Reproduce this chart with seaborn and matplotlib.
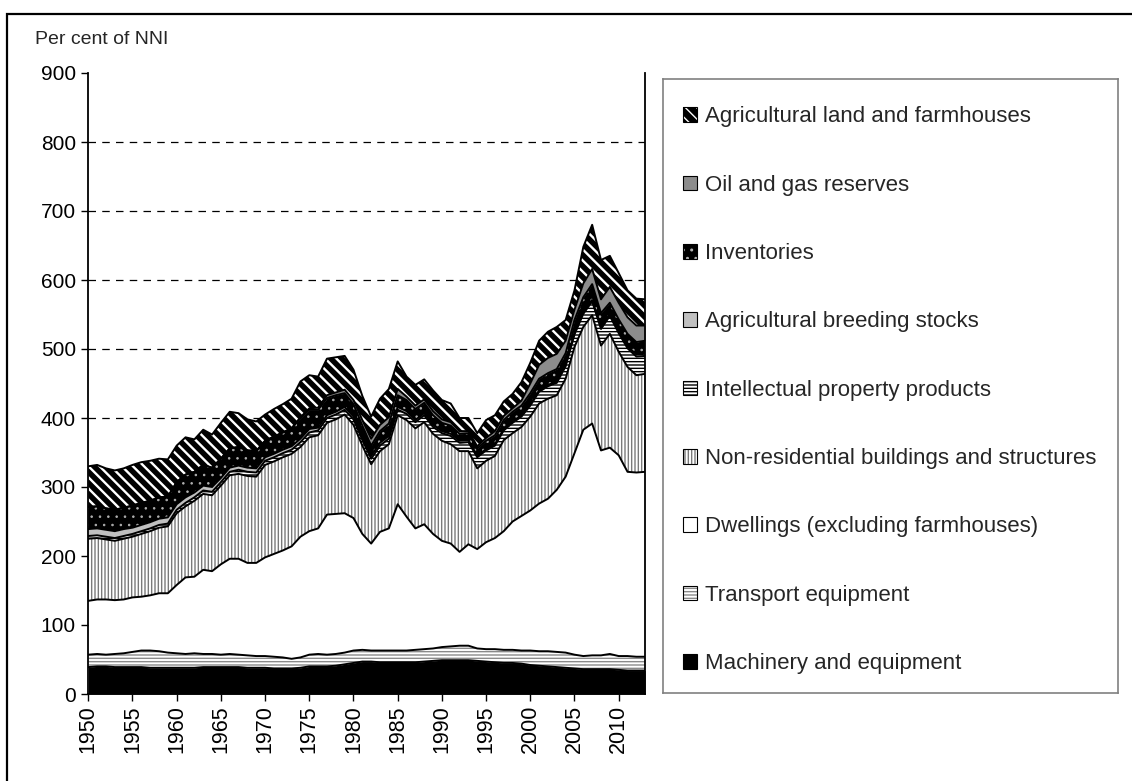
import matplotlib
matplotlib.use("Agg")
import matplotlib.pyplot as plt
from matplotlib.patches import Patch, Rectangle
import numpy as np
import pandas as pd
import seaborn as sns

# ── Data (per cent of NNI), 1950-2013 ─────────────────────────
years = list(range(1950, 2014))

machinery = [39, 40, 40, 39, 39, 39, 39, 38, 38, 38,
             38, 38, 38, 39, 39, 39, 39, 39, 38, 38,
             38, 37, 37, 37, 38, 40, 40, 40, 41, 43,
             45, 47, 47, 46, 46, 46, 46, 46, 47, 48,
             49, 49, 49, 49, 48, 47, 46, 45, 45, 44,
             42, 41, 40, 39, 38, 37, 36, 36, 36, 36,
             35, 34, 34, 34]
transport = [18, 18, 17, 19, 20, 22, 24, 25, 24, 22,
             21, 20, 21, 19, 19, 18, 19, 18, 18, 17,
             17, 17, 16, 14, 15, 17, 18, 17, 17, 17,
             18, 17, 16, 17, 17, 17, 17, 18, 18, 18,
             19, 20, 21, 21, 18, 18, 19, 19, 19, 19,
             21, 21, 22, 22, 22, 20, 19, 20, 20, 22,
             20, 21, 20, 20]
dwellings = [78, 79, 80, 78, 78, 79, 78, 80, 84, 86,
             99, 111, 111, 122, 120, 131, 138, 139, 134, 135,
             143, 149, 155, 163, 175, 179, 182, 203, 203, 202,
             192, 168, 155, 172, 177, 212, 194, 176, 181, 166,
             154, 149, 136, 147, 144, 155, 161, 172, 186, 195,
             203, 214, 221, 235, 255, 292, 328, 336, 297, 299,
             291, 267, 267, 268]
nonres = [90, 89, 87, 86, 88, 88, 91, 93, 95, 97,
          104, 103, 110, 110, 110, 114, 121, 123, 126, 125,
          134, 134, 135, 134, 130, 136, 135, 133, 137, 143,
          135, 128, 115, 117, 122, 129, 140, 145, 148, 145,
          145, 144, 146, 135, 117, 118, 119, 132, 128, 129,
          136, 145, 145, 137, 142, 154, 149, 157, 152, 165,
          150, 152, 141, 142]
intellectual = [4, 4, 4, 4, 4, 4, 4, 4, 4, 4,
                5, 5, 5, 5, 5, 5, 5, 6, 6, 6,
                6, 6, 6, 6, 7, 7, 7, 7, 7, 7,
                8, 8, 8, 8, 8, 8, 9, 9, 10, 10,
                11, 12, 12, 13, 16, 15, 15, 14, 15, 15,
                16, 17, 18, 18, 18, 18, 19, 20, 24, 26,
                27, 27, 27, 26]
breeding = [10, 10, 10, 10, 10, 9, 9, 9, 9, 9,
            8, 8, 7, 7, 7, 6, 6, 6, 6, 6,
            5, 5, 5, 5, 5, 5, 4, 4, 4, 4,
            4, 4, 4, 4, 4, 4, 4, 3, 3, 3,
            3, 3, 3, 3, 2, 2, 2, 2, 2, 2,
            2, 2, 2, 2, 2, 2, 2, 2, 3, 3,
            3, 3, 3, 3]
inventories = [32, 32, 31, 31, 31, 32, 32, 31, 31, 30,
               32, 33, 30, 30, 28, 28, 28, 27, 25, 25,
               24, 25, 25, 26, 30, 28, 26, 25, 24, 20,
               18, 17, 15, 17, 18, 17, 16, 16, 15, 14,
               12, 12, 10, 10, 11, 12, 13, 13, 14, 14,
               16, 17, 17, 18, 17, 19, 22, 23, 20, 16,
               17, 18, 18, 19]
oil_gas = [0, 0, 0, 0, 0, 0, 0, 0, 0, 0,
           0, 0, 0, 0, 0, 0, 0, 0, 0, 0,
           0, 0, 0, 0, 1, 2, 3, 4, 4, 5,
           6, 8, 10, 9, 9, 9, 5, 5, 5, 6,
           5, 5, 4, 3, 3, 4, 6, 6, 5, 7,
           14, 20, 22, 22, 18, 15, 20, 22, 20, 23,
           24, 24, 24, 22]
agri_land = [59, 60, 58, 57, 57, 59, 59, 58, 56, 54,
             53, 54, 47, 51, 48, 52, 53, 49, 45, 43,
             38, 40, 41, 43, 52, 48, 45, 53, 51, 49,
             44, 35, 32, 38, 41, 40, 29, 30, 29, 30,
             28, 27, 19, 19, 19, 26, 23, 21, 21, 27,
             30, 35, 38, 39, 30, 28, 53, 64, 57, 45,
             43, 39, 39, 38]

labels = ["Machinery and equipment", "Transport equipment",
          "Dwellings (excluding farmhouses)",
          "Non-residential buildings and structures",
          "Intellectual property products", "Agricultural breeding stocks",
          "Inventories", "Oil and gas reserves",
          "Agricultural land and farmhouses"]

df = pd.DataFrame({"year": years,
                   labels[0]: machinery, labels[1]: transport,
                   labels[2]: dwellings, labels[3]: nonres,
                   labels[4]: intellectual, labels[5]: breeding,
                   labels[6]: inventories, labels[7]: oil_gas,
                   labels[8]: agri_land})

# face colour, hatch, hatch colour, hatch width
styles = [("black", None, "black", 1.0),
          ("white", "-----", "#8a8a8a", 1.0),
          ("white", None, "black", 1.0),
          ("white", "|||||", "#7a7a7a", 1.0),
          ("white", "-----", "black", 1.0),
          ("#c0c0c0", None, "black", 1.0),
          ("black", "..", "#b0b0b0", 0.6),
          ("#8c8c8c", None, "black", 1.0),
          ("black", "\\\\\\", "white", 1.7)]

# ── Style ──────────────────────────────────────────
sns.set_theme(style="white")
plt.rcParams["font.family"] = ["Liberation Sans", "DejaVu Sans"]

fig = plt.figure(figsize=(11.32, 7.81), dpi=100)
ax = fig.add_axes([88.3 / 1132, 1 - 694 / 781, (645.2 - 88.3) / 1132, 621 / 781])

bottom = np.zeros(len(years))
tops = []
for lab, (fc, hatch, hc, hlw) in zip(labels, styles):
    top = bottom + df[lab].to_numpy()
    with plt.rc_context({"hatch.linewidth": hlw}):
        coll = ax.fill_between(df["year"], bottom, top, facecolor=fc,
                               edgecolor=hc, hatch=hatch, linewidth=0, zorder=2)
    if hasattr(coll, "set_hatch_linewidth"):
        coll.set_hatch_linewidth(hlw)
    tops.append(top)
    bottom = top

# black outlines of each layer
for top in tops:
    sns.lineplot(x=years, y=top, color="black", linewidth=1.4, ax=ax, zorder=3)

ax.set_xlim(1950, 2013)
ax.set_ylim(0, 900)
ax.set_xticks(range(1950, 2011, 5))
ax.set_yticks(range(0, 901, 100))
ax.tick_params(axis="x", labelrotation=90, labelsize=15.5, length=5, width=1,
               direction="out", bottom=True, pad=3, colors="black")
ax.tick_params(axis="y", labelsize=15, length=5, width=1,
               direction="out", left=True, pad=4, colors="black")
# dashed gridlines for 100..800 only
for yv in range(100, 900, 100):
    ax.axhline(yv, color="black", linestyle=(0, (6, 5)), linewidth=0.9, zorder=0)
for side in ["left", "bottom", "right"]:
    ax.spines[side].set_color("black")
    ax.spines[side].set_linewidth(1.3)
ax.spines["top"].set_visible(False)
ax.set_xlabel("")
ax.set_ylabel("")

fig.text(35 / 1132, 1 - 40 / 781, "Per cent of NNI", fontsize=14,
         ha="left", va="center")

# ── Legend in its own box ─────────────────────────
lax = fig.add_axes([663 / 1132, 1 - 693 / 781, 455 / 1132, 614 / 781])
lax.set_xticks([])
lax.set_yticks([])
for s in lax.spines.values():
    s.set_color("#808080")
    s.set_linewidth(1.2)

handles = []
for fc, hatch, hc, hlw in styles:
    fill = Patch(facecolor=fc, edgecolor=hc, hatch=hatch, linewidth=0)
    frame = Patch(facecolor="none", edgecolor="black", linewidth=0.8)
    handles.append((fill, frame))

lax.legend(handles[::-1], labels[::-1], loc="center left", frameon=False,
           fontsize=16, handlelength=0.65, handleheight=0.65, handletextpad=0.35,
           labelspacing=2.13, borderaxespad=0.5,
           bbox_to_anchor=(0, 0.493))

# outer frame of the exhibit
fig.patches.append(Rectangle((7 / 1132, -0.02), 1.05, 1 - 14 / 781 + 0.02,
                             transform=fig.transFigure, fill=False,
                             edgecolor="black", linewidth=1.6))

plt.savefig("out.png", dpi=100)
